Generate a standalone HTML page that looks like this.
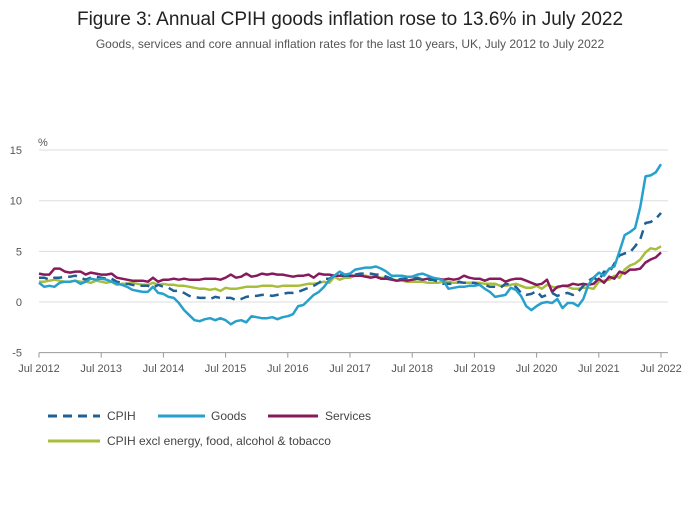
<!DOCTYPE html>
<html><head><meta charset="utf-8"><style>
body{margin:0;background:#fff;font-family:"Liberation Sans",sans-serif}
svg text{font-family:"Liberation Sans",sans-serif}
</style></head><body>
<svg width="700" height="502" xmlns="http://www.w3.org/2000/svg" id="c">
<text x="350" y="25" text-anchor="middle" font-size="19" fill="#222">Figure 3: Annual CPIH goods inflation rose to 13.6% in July 2022</text>
<text x="350" y="48" text-anchor="middle" font-size="12" fill="#555">Goods, services and core annual inflation rates for the last 10 years, UK, July 2012 to July 2022</text>
<text x="38" y="146" font-size="11" fill="#555">%</text>
<g id="grid"></g><g id="series"></g>
<g>
<line x1="48" y1="416" x2="100" y2="416" stroke="#206095" stroke-width="3" stroke-dasharray="9,6"/>
<text x="107" y="420" font-size="12" fill="#444">CPIH</text>
<line x1="158" y1="416" x2="205" y2="416" stroke="#27a0cc" stroke-width="3"/>
<text x="211" y="420" font-size="12" fill="#444">Goods</text>
<line x1="268" y1="416" x2="318" y2="416" stroke="#871a5b" stroke-width="3"/>
<text x="325" y="420" font-size="12" fill="#444">Services</text>
<line x1="48" y1="441" x2="100" y2="441" stroke="#a8bd3a" stroke-width="3"/>
<text x="107" y="445" font-size="12" fill="#444">CPIH excl energy, food, alcohol &amp; tobacco</text>
</g>
</svg>
<script>
const yTicks=[15,10,5,0,-5];
const xTickLabels=["Jul 2012","Jul 2013","Jul 2014","Jul 2015","Jul 2016","Jul 2017","Jul 2018","Jul 2019","Jul 2020","Jul 2021","Jul 2022"];
const goods=[1.9,1.5,1.6,1.5,1.9,2.0,
2.0,2.1,1.8,2.0,2.3,2.2,2.3,2.2,2.0,1.8,1.7,1.5,
1.2,1.1,1.0,1.0,1.5,0.9,0.8,0.5,0.4,-0.1,-0.8,-1.3,
-1.8,-1.9,-1.7,-1.6,-1.8,-1.6,-1.8,-2.2,-1.9,-1.8,-2.0,-1.4,
-1.5,-1.6,-1.6,-1.5,-1.7,-1.5,-1.4,-1.2,-0.4,-0.3,0.2,0.7,
1.0,1.5,2.2,2.6,3.0,2.7,2.8,3.2,3.3,3.4,3.4,3.5,
3.3,3.0,2.6,2.6,2.6,2.5,2.5,2.7,2.8,2.6,2.4,2.3,
2.1,1.3,1.4,1.5,1.5,1.6,1.6,1.7,1.3,1.0,0.5,0.6,
0.7,1.4,1.2,0.6,-0.4,-0.8,-0.4,-0.1,0.0,-0.1,0.3,-0.6,
-0.1,-0.1,-0.4,0.3,1.7,2.4,2.9,2.6,3.3,3.5,5.0,6.6,
6.9,7.3,9.4,12.4,12.5,12.8,13.6];
const cpih=[2.4,2.4,2.2,2.4,2.4,2.5,
2.5,2.6,2.4,2.2,2.4,2.5,2.4,2.3,2.3,2.0,1.9,1.8,
1.7,1.6,1.6,1.6,1.4,1.7,1.5,1.4,1.1,1.1,0.9,0.6,
0.5,0.4,0.4,0.3,0.5,0.4,0.4,0.4,0.2,0.3,0.5,0.6,
0.6,0.7,0.7,0.6,0.7,0.8,0.9,0.9,1.0,1.2,1.4,1.6,
1.9,2.3,2.3,2.6,2.7,2.6,2.6,2.7,2.8,2.8,2.8,2.7,
2.7,2.5,2.3,2.2,2.3,2.3,2.3,2.4,2.2,2.2,2.2,2.0,
1.8,1.8,1.8,2.0,1.9,1.9,1.9,1.7,1.7,1.5,1.5,1.4,
1.8,1.7,1.5,0.9,0.7,0.8,1.1,0.5,0.7,0.9,0.6,0.8,
0.9,0.7,1.0,1.6,2.1,2.4,2.1,3.0,2.9,3.8,4.6,4.8,
4.9,5.5,6.2,7.8,7.9,8.2,8.8];
const services=[2.8,2.7,2.7,3.3,3.3,3.0,
2.9,3.0,3.0,2.7,2.9,2.8,2.7,2.7,2.8,2.4,2.3,2.2,
2.1,2.1,2.1,2.0,2.4,2.0,2.2,2.2,2.3,2.2,2.3,2.2,
2.2,2.2,2.3,2.3,2.3,2.2,2.4,2.7,2.4,2.5,2.8,2.5,
2.6,2.8,2.7,2.8,2.7,2.7,2.6,2.5,2.6,2.6,2.7,2.4,
2.8,2.7,2.7,2.6,2.6,2.6,2.6,2.6,2.6,2.5,2.4,2.5,
2.3,2.3,2.2,2.1,2.2,2.1,2.2,2.3,2.2,2.3,2.3,2.3,
2.2,2.3,2.2,2.3,2.6,2.4,2.3,2.3,2.1,2.3,2.3,2.3,
2.0,2.2,2.3,2.3,2.1,1.9,1.7,1.8,2.2,1.0,1.5,1.6,
1.6,1.8,1.7,1.8,1.7,1.8,2.3,1.9,2.5,2.3,3.0,2.8,
3.2,3.2,3.3,3.9,4.2,4.4,4.9];
const core=[2.0,2.0,2.1,2.2,2.1,2.0,
2.0,2.1,2.0,2.0,1.9,2.1,2.0,1.9,2.0,1.7,1.8,1.8,
1.9,1.8,1.7,1.7,1.9,1.7,1.8,1.7,1.7,1.6,1.6,1.5,
1.4,1.3,1.3,1.2,1.3,1.1,1.4,1.3,1.3,1.4,1.5,1.5,
1.5,1.6,1.6,1.6,1.5,1.6,1.6,1.6,1.6,1.7,1.8,1.8,
1.9,2.0,1.9,2.5,2.2,2.4,2.4,2.6,2.6,2.6,2.5,2.5,
2.4,2.4,2.3,2.1,2.1,2.0,2.0,2.0,2.0,1.9,1.9,1.9,
2.0,2.0,1.9,1.9,1.9,1.9,1.9,1.9,1.8,1.8,1.8,1.6,
1.6,1.7,1.8,1.6,1.4,1.4,1.6,1.3,1.7,1.5,1.4,1.6,
1.5,1.3,1.3,1.4,1.4,1.3,2.0,2.1,2.2,2.6,2.4,3.2,
3.6,3.8,4.2,4.9,5.3,5.2,5.5];
const NS='http://www.w3.org/2000/svg';
const X0=39,X1=661,Y0=302,PU=10.13;
const n=goods.length;
function xs(i){return X0+i*(X1-X0)/(n-1);}
function ys(v){return Y0-v*PU;}
function mk(t,a,p){const e=document.createElementNS(NS,t);for(const k in a)e.setAttribute(k,a[k]);p.appendChild(e);return e;}
const grid=document.getElementById('grid');
yTicks.forEach(v=>{
  const l=mk('line',{x1:X0,x2:668,y1:ys(v),y2:ys(v),stroke:v===-5?'#999':'#ddd','stroke-width':1},grid);
  
  
  const t=mk('text',{x:22,y:ys(v)+4,'text-anchor':'end','font-size':11,fill:'#555'},grid);
  t.textContent=v;
  
  
});
xTickLabels.forEach((s,k)=>{
  const x=xs(k*12);
  const l=mk('line',{x1:x,x2:x,y1:ys(-5),y2:ys(-5)+5,stroke:'#999'},grid);
  
  
  const t=mk('text',{x:x,y:372,'text-anchor':'middle','font-size':11,fill:'#555'},grid);
  t.textContent=s;
  
  
});
const sg=document.getElementById('series');
function line(arr,color,name,dash){
  const d=arr.map((v,i)=>(i?'L':'M')+xs(i).toFixed(1)+','+ys(v).toFixed(1)).join('');
  const a={d:d,fill:'none',stroke:color,'stroke-width':2.5,'stroke-linejoin':'round'};
  if(dash)a['stroke-dasharray']=dash;
  const p=mk('path',a,sg);
  
  
}
line(core,'#a8bd3a','core-line');
line(services,'#871a5b','services-line');
line(cpih,'#206095','cpih-line','9,6');
line(goods,'#27a0cc','goods-line');
</script>
</body></html>
